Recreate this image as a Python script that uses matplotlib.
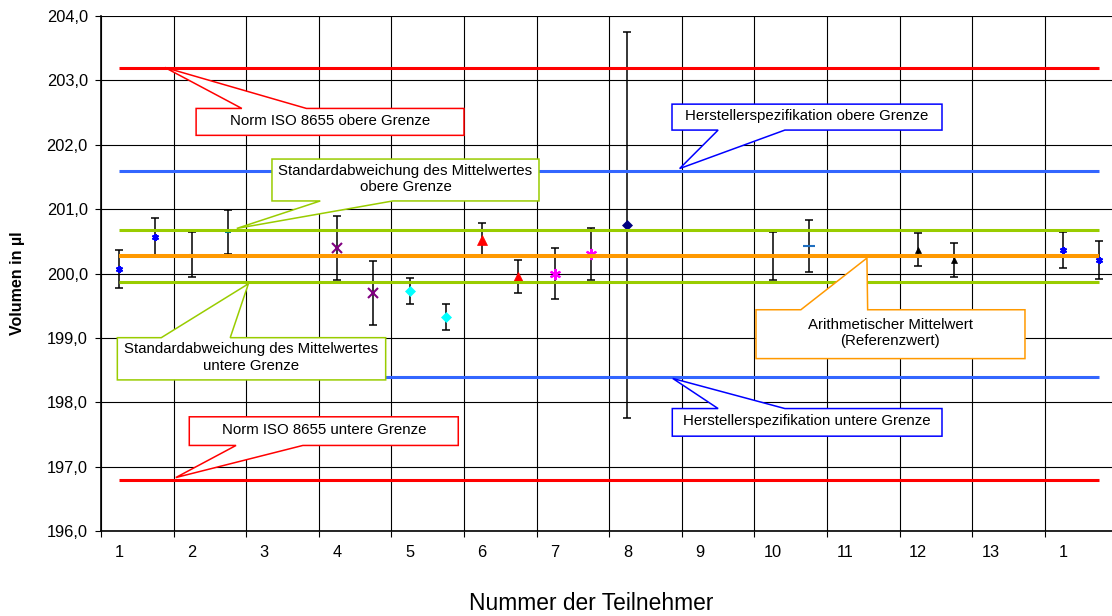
import numpy as np
import matplotlib
matplotlib.use("Agg")
from matplotlib import pyplot as plt
from matplotlib.patches import Polygon

plt.rcParams['font.family'] = ['Liberation Sans', 'DejaVu Sans']

# Teilnehmer (je zwei Messreihen pro Teilnehmer)
teilnehmer = ['1', '2', '3', '4', '5', '6', '7', '8', '9', '10', '11', '12', '13', '1']

# Mittelwerte der Messreihen in µl (nan = keine Daten)
volumen = [200.07, 200.56, 200.29, 200.645, np.nan, np.nan, 200.40, 199.70,
           199.73, 199.32, 200.52, 199.95, 200.00, 200.30, 200.75, np.nan,
           np.nan, np.nan, 200.27, 200.43, np.nan, np.nan, 200.37, 200.21,
           np.nan, np.nan, 200.37, 200.21]
# Standardabweichungen
stdabw = [0.30, 0.30, 0.35, 0.345, np.nan, np.nan, 0.50, 0.50,
          0.20, 0.20, 0.27, 0.26, 0.40, 0.40, 3.00, np.nan,
          np.nan, np.nan, 0.37, 0.40, np.nan, np.nan, 0.26, 0.26,
          np.nan, np.nan, 0.28, 0.30]

# Grenzwerte
norm_oben, norm_unten = 203.2, 196.8
hersteller_oben, hersteller_unten = 201.6, 198.4
mittelwert = 200.27
sd_oben, sd_unten = 200.67, 199.87

# marker style per participant
stile = [((6, 2, 0), '#0000FF', 5), ('_', '#008080', 5), (None, 'k', 0),
         ('x', '#800080', 7), ('D', '#00FFFF', 5.5), ('^', '#FF0000', 7.5),
         ((6, 2, 0), '#FF00FF', 8), ('D', '#000080', 5.5), (None, 'k', 0),
         ('_', '#1F6FC0', 9), (None, 'k', 0), ('^', '#000000', 5),
         (None, 'k', 0), ((6, 2, 0), '#0000FF', 5)]

fig = plt.figure(figsize=(11.12, 6.16), dpi=100)
ax = fig.add_axes([101 / 1112, 1 - 531 / 616, 14 * 72.6 / 1112, 515 / 616])

pos = np.arange(len(volumen)) * 0.5 + 0.25

for i, (m, c, s) in enumerate(stile):
    for j in (2 * i, 2 * i + 1):
        if np.isnan(volumen[j]):
            continue
        ax.errorbar(pos[j], volumen[j], yerr=stdabw[j], fmt='none', ecolor='black',
                    elinewidth=1.1, capsize=2.8, capthick=1.1, zorder=2)
        if m is not None:
            ax.plot(pos[j], volumen[j], linestyle='none', marker=m, color=c,
                    markersize=s, markeredgewidth=1.5 if m in ('x', '_') or isinstance(m, tuple) else 0.5,
                    zorder=3)

x0, x1 = pos[0], pos[-1]
for y, col, lw in [(norm_oben, '#FF0000', 2.2), (norm_unten, '#FF0000', 2.2),
                   (hersteller_oben, '#3366FF', 2.2), (hersteller_unten, '#3366FF', 2.2),
                   (sd_oben, '#99CC00', 2.2), (sd_unten, '#99CC00', 2.2),
                   (mittelwert, '#FF9900', 2.9)]:
    ax.plot([x0, x1], [y, y], color=col, lw=lw, solid_capstyle='butt', zorder=4)


def callout(xa, xb, ya, yb, b0, b1, tip, edge, col, txt):
    # ya bottom, yb top of box
    if edge == 'top':
        pts = [(xa, ya), (xa, yb), (b0, yb), tip, (b1, yb), (xb, yb), (xb, ya)]
    else:
        pts = [(xa, yb), (xb, yb), (xb, ya), (b1, ya), tip, (b0, ya), (xa, ya)]
    ax.add_patch(Polygon(pts, closed=True, fc='white', ec=col, lw=1.1, zorder=5))
    ax.text((xa + xb) / 2, (ya + yb) / 2 + 0.02, txt, ha='center', va='center',
            fontsize=10.8, linespacing=1.2, zorder=6)


callout(1.31, 5.0, 202.146, 202.564, 1.94, 2.83, (0.88, norm_oben), 'top',
        '#FF0000', 'Norm ISO 8655 obere Grenze')
callout(7.865, 11.584, 202.228, 202.631, 8.50, 9.42, (7.97, hersteller_oben + 0.03), 'bottom',
        '#0000FF', 'Herstellerspezifikation obere Grenze')
callout(2.355, 6.033, 201.127, 201.778, 3.02, 4.02, (1.87, sd_oben + 0.03), 'bottom',
        '#99CC00', 'Standardabweichung des Mittelwertes\nobere Grenze')
callout(0.225, 3.921, 198.347, 199.003, 0.83, 1.78, (2.03, sd_unten - 0.03), 'top',
        '#99CC00', 'Standardabweichung des Mittelwertes\nuntere Grenze')
callout(1.216, 4.921, 197.329, 197.774, 1.86, 2.78, (1.03, norm_unten + 0.03), 'bottom',
        '#FF0000', 'Norm ISO 8655 untere Grenze')
callout(7.869, 11.584, 197.473, 197.902, 8.50, 9.42, (7.875, hersteller_unten - 0.03), 'top',
        '#0000FF', 'Herstellerspezifikation untere Grenze')
callout(9.022, 12.727, 198.678, 199.437, 9.64, 10.56, (10.55, mittelwert - 0.03), 'top',
        '#FF9900', 'Arithmetischer Mittelwert\n(Referenzwert)')

ax.set_xlim(0, 14)
ax.set_ylim(196, 204)
ax.set_yticks(np.arange(196, 204.5, 1))
ax.set_yticklabels([f'{v:.1f}'.replace('.', ',') for v in np.arange(196, 204.5, 1)],
                   fontsize=11.8)
ax.set_xticks(np.arange(0, 15))
ax.set_xticklabels([])
ax.set_xticks(pos[::2], minor=True)
ax.set_xticklabels(teilnehmer, minor=True, fontsize=11.8)
ax.tick_params(axis='x', which='minor', length=0, pad=10)
ax.tick_params(axis='both', which='major', direction='out', length=4.5, width=0.8)
ax.tick_params(axis='y', pad=5)
ax.grid(True, which='major', color='black', lw=0.8, zorder=0)
ax.set_axisbelow(True)
for s in ['top', 'right']:
    ax.spines[s].set_visible(False)
ax.spines['left'].set_linewidth(1.2)
ax.spines['bottom'].set_linewidth(1.2)

fig.text(18 / 1112, 1 - 283 / 616, 'Volumen in µl', rotation=90, ha='center', va='center',
         fontsize=11.5, fontweight='bold')
fig.text(591 / 1112, 1 - 604 / 616, 'Nummer der Teilnehmer', ha='center', va='center',
         fontsize=16.4)

fig.savefig('out.png', dpi=100)
